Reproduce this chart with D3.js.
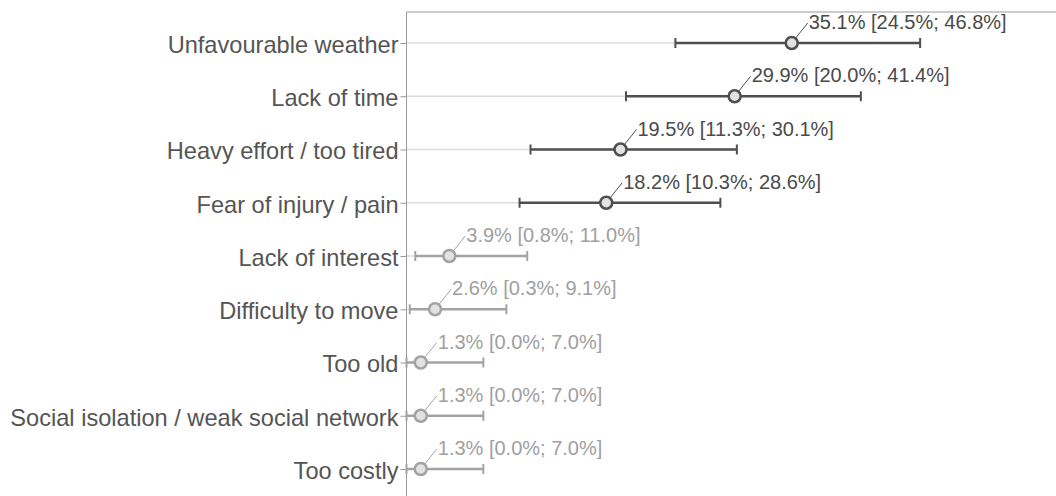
<!DOCTYPE html>
<html><head><meta charset="utf-8">
<script src="https://cdn.jsdelivr.net/npm/d3@7"></script>
<style>
html,body{margin:0;padding:0;background:#fff;}
svg{display:block;font-family:"Liberation Sans",Arial,sans-serif;}
</style></head><body>
<svg id="c" width="1056" height="496"></svg>
<script>
const categories = ["Unfavourable weather","Lack of time","Heavy effort / too tired","Fear of injury / pain","Lack of interest","Difficulty to move","Too old","Social isolation / weak social network","Too costly"];
const estimates = [35.1, 29.9, 19.5, 18.2, 3.9, 2.6, 1.3, 1.3, 1.3];
const lower = [24.5, 20.0, 11.3, 10.3, 0.8, 0.3, 0.0, 0.0, 0.0];
const upper = [46.8, 41.4, 30.1, 28.6, 11.0, 9.1, 7.0, 7.0, 7.0];
const highlighted = [true, true, true, true, false, false, false, false, false];

const data = categories.map((c,i)=>({c, v:estimates[i], lo:lower[i], hi:upper[i], hl:highlighted[i]}));
const svg = d3.select("#c");
const x = d3.scaleLinear().domain([0,60]).range([406.5,1065]);
const y = d3.scalePoint().domain(categories).range([43,469]);
const plotTop = 12, plotBottom = 496;
const dark = "#4f4f4f", light = "#a3a3a3";

// stems
svg.append("g").selectAll("line").data(data).join("line")
  .attr("x1", x(0)).attr("x2", d=>x(d.v))
  .attr("y1", d=>y(d.c)).attr("y2", d=>y(d.c))
  .attr("stroke","#dcdcdc").attr("stroke-width",1.5);

// axis
const ax = svg.append("g").attr("transform",`translate(${x(0)},0)`)
  .call(d3.axisLeft(y).tickSize(6).tickPadding(2));
ax.select(".domain").remove();
ax.selectAll(".tick line").attr("stroke","#999").attr("stroke-width",1);
ax.selectAll(".tick text").attr("fill","#555").attr("dy","0.4em").style("font-size","23.6px")
  .style("font-family","'Liberation Sans',Arial,sans-serif");
svg.append("line").attr("x1",x(0)).attr("x2",x(0)).attr("y1",plotTop).attr("y2",plotBottom)
  .attr("stroke","#999").attr("stroke-width",1);
svg.append("line").attr("x1",x(0)).attr("x2",1056).attr("y1",plotTop).attr("y2",plotTop)
  .attr("stroke","#999").attr("stroke-width",1);

const g = svg.append("g").selectAll("g").data(data).join("g");
const col = d=> d.hl ? dark : light;
g.append("line").attr("x1",d=>x(d.lo)).attr("x2",d=>x(d.hi))
  .attr("y1",d=>y(d.c)).attr("y2",d=>y(d.c)).attr("stroke",col).attr("stroke-width",2.5);
g.append("line").attr("x1",d=>x(d.lo)).attr("x2",d=>x(d.lo))
  .attr("y1",d=>y(d.c)-5).attr("y2",d=>y(d.c)+5).attr("stroke",col).attr("stroke-width",2);
g.append("line").attr("x1",d=>x(d.hi)).attr("x2",d=>x(d.hi))
  .attr("y1",d=>y(d.c)-5).attr("y2",d=>y(d.c)+5).attr("stroke",col).attr("stroke-width",2);
g.append("line").attr("x1",d=>x(d.v)+4).attr("x2",d=>x(d.v)+16)
  .attr("y1",d=>y(d.c)-5).attr("y2",d=>y(d.c)-20).attr("stroke",col).attr("stroke-width",1);
g.append("circle").attr("cx",d=>x(d.v)).attr("cy",d=>y(d.c)).attr("r",6)
  .attr("fill","#e2e2e2").attr("stroke",col).attr("stroke-width",2.5);
g.append("text").attr("x",d=>x(d.v)+17).attr("y",d=>y(d.c)-14)
  .attr("fill",d=>d.hl?"#4a4a4a":"#a0a0a0").style("font-size","20px")
  .text(d=>`${d.v.toFixed(1)}% [${d.lo.toFixed(1)}%; ${d.hi.toFixed(1)}%]`);
</script></body></html>
